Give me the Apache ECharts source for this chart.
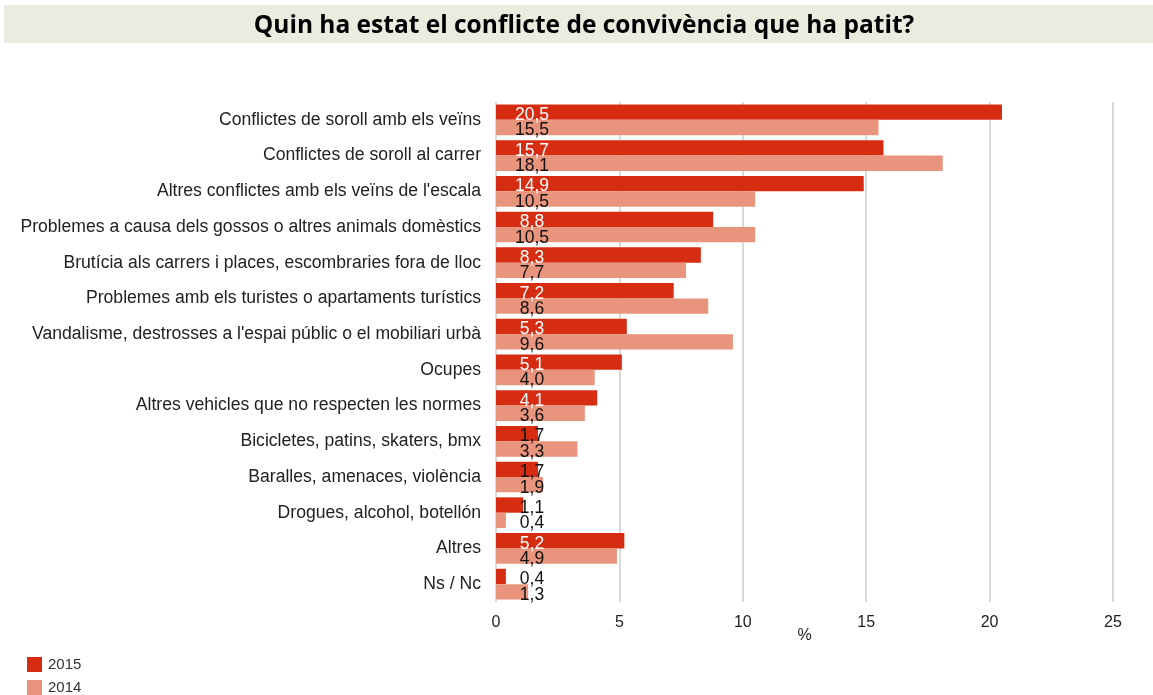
<!DOCTYPE html>
<html>
<head>
<meta charset="utf-8">
<script src="https://cdn.jsdelivr.net/npm/echarts@6/dist/echarts.min.js"></script>
<style>html,body{margin:0;padding:0;background:#fff}#c{width:1153px;height:695px}</style>
</head>
<body>
<div id="c"></div>
<script>
const titleText = "Quin ha estat el conflicte de convivència que ha patit?";
const categories = [
  "Conflictes de soroll amb els veïns",
  "Conflictes de soroll al carrer",
  "Altres conflictes amb els veïns de l'escala",
  "Problemes a causa dels gossos o altres animals domèstics",
  "Brutícia als carrers i places, escombraries fora de lloc",
  "Problemes amb els turistes o apartaments turístics",
  "Vandalisme, destrosses a l'espai públic o el mobiliari urbà",
  "Ocupes",
  "Altres vehicles que no respecten les normes",
  "Bicicletes, patins, skaters, bmx",
  "Baralles, amenaces, violència",
  "Drogues, alcohol, botellón",
  "Altres",
  "Ns / Nc"
];
const values2015 = [20.5, 15.7, 14.9, 8.8, 8.3, 7.2, 5.3, 5.1, 4.1, 1.7, 1.7, 1.1, 5.2, 0.4];
const values2014 = [15.5, 18.1, 10.5, 10.5, 7.7, 8.6, 9.6, 4.0, 3.6, 3.3, 1.9, 0.4, 4.9, 1.3];
const seriesNames = ["2015", "2014"];
const xTicks = [0, 5, 10, 15, 20, 25];

const fmt = v => v.toFixed(1).replace('.', ',');
const chart = echarts.init(document.getElementById('c'));
const labelBase = {
  show: true,
  position: [36, '50%'],
  align: 'center',
  verticalAlign: 'middle',
  fontFamily: 'Liberation Sans',
  fontSize: 17.5,
  offset: [0, 3],
  formatter: p => fmt(p.value)
};
const legendCommon = {
  orient: 'horizontal',
  left: 22,
  itemWidth: 15, itemHeight: 15, itemGap: 6,
  icon: 'rect',
  textStyle: { fontFamily: 'Liberation Sans', fontSize: 15, color: '#333', padding: [0, 0, 0, 1] }
};
chart.setOption({
  animation: false,
  graphic: [
    { type: 'rect', left: 4, top: 5, shape: { width: 1149, height: 38 }, style: { fill: '#ecebe0' } },
    { type: 'text', x: 584, y: 26, style: { text: titleText, align: 'center', verticalAlign: 'middle', font: 'bold 24.5px "Open Sans"', fill: '#000' } }
  ],
  grid: { left: 496, right: 40, top: 102, bottom: 93 },
  legend: [
    Object.assign({ data: [seriesNames[0]], top: 652 }, legendCommon),
    Object.assign({ data: [seriesNames[1]], top: 675 }, legendCommon)
  ],
  xAxis: {
    type: 'value', min: 0, max: 25, interval: 5,
    name: '%', nameLocation: 'middle', nameGap: 26, nameMoveOverlap: false,
    nameTextStyle: { fontFamily: 'Liberation Sans', fontSize: 16, color: '#222' },
    axisLabel: { fontFamily: 'Liberation Sans', fontSize: 16, color: '#222', margin: 13 },
    axisLine: { show: false }, axisTick: { show: false },
    splitLine: { show: true, lineStyle: { color: '#d9d9d9', width: 2 } }
  },
  yAxis: {
    type: 'category', data: categories, inverse: true,
    axisLine: { show: false }, axisTick: { show: false },
    axisLabel: { fontFamily: 'Liberation Sans', fontSize: 17.6, color: '#222', margin: 15 }
  },
  series: [
    {
      name: seriesNames[0], type: 'bar', barGap: '0%', barCategoryGap: '14%',
      itemStyle: { color: '#d62d12' },
      data: values2015.map(v => ({ value: v, label: { color: v > 3 ? '#fff' : '#111' } })),
      label: labelBase
    },
    {
      name: seriesNames[1], type: 'bar',
      itemStyle: { color: '#e9947c' },
      data: values2014,
      label: Object.assign({}, labelBase, { color: '#111' })
    }
  ]
});
</script>
</body>
</html>
